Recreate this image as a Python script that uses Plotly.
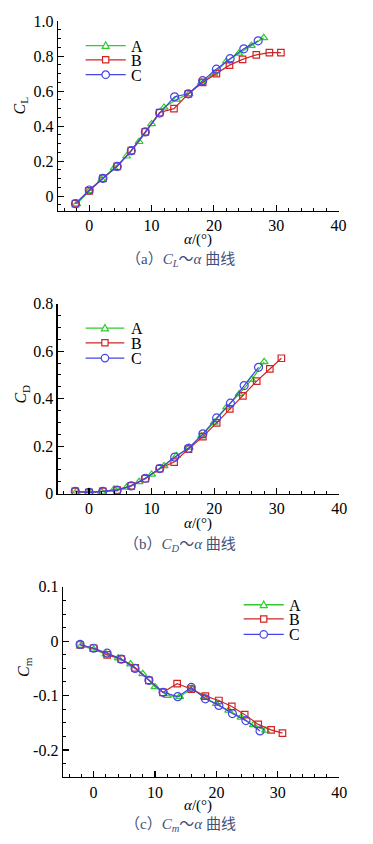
import plotly.graph_objects as go

# ---------------- data ----------------
alpha_A = [-2, 0, 2, 4, 6, 8, 10, 12, 14, 16, 18, 20, 22, 24, 26, 28]
alpha_B = [-2.2, 0, 2.2, 4.5, 6.75, 9.0, 11.3, 13.6, 15.9, 18.2, 20.4, 22.5, 24.6, 26.8, 28.9, 30.75]
alpha_C = [-2.2, 0, 2.2, 4.5, 6.75, 9.0, 11.3, 13.7, 15.9, 18.2, 20.4, 22.6, 24.8, 27.1]

CL_A = [-0.045, 0.03, 0.095, 0.16, 0.228, 0.311, 0.413, 0.507, 0.553, 0.585, 0.65, 0.70, 0.77, 0.816, 0.86, 0.905]
CL_B = [-0.043, 0.03, 0.102, 0.17, 0.26, 0.367, 0.478, 0.50, 0.585, 0.65, 0.70, 0.749, 0.782, 0.808, 0.82, 0.82]
CL_C = [-0.043, 0.035, 0.102, 0.17, 0.26, 0.367, 0.475, 0.568, 0.585, 0.66, 0.726, 0.786, 0.842, 0.888]

CD_A = [0.01, 0.006, 0.008, 0.019, 0.027, 0.05, 0.081, 0.117, 0.16, 0.195, 0.243, 0.30, 0.364, 0.42, 0.48, 0.555]
CD_B = [0.01, 0.006, 0.01, 0.015, 0.033, 0.063, 0.106, 0.133, 0.188, 0.24, 0.298, 0.357, 0.412, 0.474, 0.525, 0.57]
CD_C = [0.01, 0.006, 0.01, 0.015, 0.033, 0.065, 0.106, 0.154, 0.191, 0.252, 0.319, 0.381, 0.455, 0.532]

Cm_A = [-0.008, -0.015, -0.024, -0.031, -0.042, -0.06, -0.084, -0.10, -0.102, -0.087, -0.103, -0.115, -0.127, -0.14, -0.154, -0.164]
Cm_B = [-0.007, -0.013, -0.025, -0.033, -0.049, -0.072, -0.094, -0.078, -0.088, -0.101, -0.109, -0.12, -0.135, -0.153, -0.163, -0.169]
Cm_C = [-0.006, -0.013, -0.022, -0.033, -0.05, -0.072, -0.094, -0.102, -0.085, -0.106, -0.118, -0.133, -0.146, -0.165]

series_names = ["A", "B", "C"]
x_ticks = [0, 10, 20, 30, 40]
x_ticktext = ["0", "10", "20", "30", "40"]
cl_ticks = [0, 0.2, 0.4, 0.6, 0.8, 1.0]
cl_ticktext = ["0", "0.2", "0.4", "0.6", "0.8", "1.0"]
cd_ticks = [0, 0.2, 0.4, 0.6, 0.8]
cd_ticktext = ["0", "0.2", "0.4", "0.6", "0.8"]
cm_ticks = [-0.2, -0.1, 0, 0.1]
cm_ticktext = ["-0.2", "-0.1", "0", "0.1"]

captions = ["（a）<i>C</i><sub><i>L</i></sub>～<i>α</i> 曲线",
            "（b）<i>C</i><sub><i>D</i></sub>～<i>α</i> 曲线",
            "（c）<i>C</i><sub><i>m</i></sub>～<i>α</i> 曲线"]
ytitles = ["<i>C</i><sub>L</sub>", "<i>C</i><sub>D</sub>", "<i>C</i><sub>m</sub>"]
xtitle = "<i>α</i>/(°)"

# ---------------- style ----------------
W, H = 373, 844
SERIF = "Liberation Serif"
colors = ["#2fcc2f", "#d02424", "#4545e6"]
symbols = ["triangle-up-open", "square-open", "circle-open"]
msizes = [7, 6.5, 8]

def px2x(px):
    return px / W

def py2y(py):
    return 1 - py / H

# panel boxes in screen pixels: (left, right, top, bottom)
boxes = [(59.3, 346.0, 13.5, 207.0),
         (59.0, 346.7, 301.7, 495.7),
         (64.3, 346.7, 590.7, 785.0)]
yranges = [[-0.084, 1.0], [0, 0.8], [-0.25, 0.1]]
yminor = [0.05, 0.05, 0.025]
yticks = [(cl_ticks, cl_ticktext), (cd_ticks, cd_ticktext), (cm_ticks, cm_ticktext)]
# legend: (line x0, line x1, text x, [row centres])
legends = [(87.5, 128.5, 131.5, [38.3, 52.9, 68.0]),
           (87.5, 127.0, 131.5, [326.7, 341.7, 357.3]),
           (249.0, 290.0, 293.0, [609.0, 623.5, 639.3])]
ytitle_pos = [(21, 100), (22, 394), (25, 672)]
xtitle_y = [236, 526, 814]
caption_pos = [(184, 257), (184, 548), (184, 834)]

data_sets = [
    (CL_A, CL_B, CL_C),
    (CD_A, CD_B, CD_C),
    (Cm_A, Cm_B, Cm_C),
]
alphas = [alpha_A, alpha_B, alpha_C]

fig = go.Figure()
layout = dict(width=W, height=H, margin=dict(l=0, r=0, t=0, b=0),
              paper_bgcolor="white", plot_bgcolor="white",
              font=dict(family=SERIF, size=15, color="black"),
              showlegend=False)
annotations = []
shapes = []

def legend_marker(kind, cx, cy, color):
    if kind == 0:  # triangle
        r = 3.6
        path = "M {:.5f},{:.5f} L {:.5f},{:.5f} L {:.5f},{:.5f} Z".format(
            px2x(cx - r), py2y(cy + r * 0.8), px2x(cx + r), py2y(cy + r * 0.8),
            px2x(cx), py2y(cy - r * 1.05))
        return dict(type="path", path=path, xref="paper", yref="paper",
                    line=dict(color=color, width=1.2), fillcolor="white")
    if kind == 1:  # square
        r = 3.2
        return dict(type="rect", xref="paper", yref="paper",
                    x0=px2x(cx - r), x1=px2x(cx + r), y0=py2y(cy + r), y1=py2y(cy - r),
                    line=dict(color=color, width=1.2), fillcolor="white")
    r = 3.8
    return dict(type="circle", xref="paper", yref="paper",
                x0=px2x(cx - r), x1=px2x(cx + r), y0=py2y(cy + r), y1=py2y(cy - r),
                line=dict(color=color, width=1.2), fillcolor="white")

for p in range(3):
    sfx = "" if p == 0 else str(p + 1)
    xa, ya = "x" + sfx, "y" + sfx
    for s in range(3):
        fig.add_trace(go.Scatter(
            x=alphas[s], y=data_sets[p][s], name=series_names[s],
            mode="lines+markers", xaxis=xa, yaxis=ya,
            line=dict(color=colors[s], width=1.2),
            marker=dict(symbol=symbols[s], size=msizes[s], color=colors[s],
                        line=dict(width=1.2, color=colors[s])),
        ))
    l, r, t, b = boxes[p]
    axcommon = dict(showline=True, linecolor="black", linewidth=1.3,
                    ticks="inside", ticklen=6, tickwidth=1.2, tickcolor="black",
                    showgrid=False, zeroline=False,
                    tickfont=dict(family=SERIF, size=16, color="black"))
    layout["xaxis" + sfx] = dict(domain=[px2x(l), px2x(r)], range=[-5, 40],
                                 anchor=ya, tickvals=x_ticks, ticktext=x_ticktext,
                                 minor=dict(dtick=2, tick0=0, ticks="inside", ticklen=3,
                                            tickcolor="black", tickwidth=1),
                                 **axcommon)
    tv, tt = yticks[p]
    layout["yaxis" + sfx] = dict(domain=[py2y(b), py2y(t)], range=yranges[p],
                                 anchor=xa, tickvals=tv, ticktext=tt,
                                 minor=dict(dtick=yminor[p], tick0=0, ticks="inside", ticklen=3,
                                            tickcolor="black", tickwidth=1),
                                 **axcommon)
    # manual legend (plotly's native legend rows are too tall)
    lx0, lx1, tx_, rows = legends[p]
    for s in range(3):
        cy = rows[s]
        shapes.append(dict(type="line", xref="paper", yref="paper",
                           x0=px2x(lx0), x1=px2x(lx1), y0=py2y(cy), y1=py2y(cy),
                           line=dict(color=colors[s], width=1.3)))
        shapes.append(legend_marker(s, (lx0 + lx1) / 2, cy, colors[s]))
        annotations.append(dict(text=series_names[s], x=px2x(tx_), y=py2y(cy),
                                xref="paper", yref="paper", xanchor="left", yanchor="middle",
                                height=14, showarrow=False,
                                font=dict(family=SERIF, size=16, color="black")))
    tx, ty = ytitle_pos[p]
    annotations.append(dict(text=ytitles[p], x=px2x(tx), y=py2y(ty), xref="paper", yref="paper",
                            xanchor="center", yanchor="middle",
                            showarrow=False, textangle=-90,
                            font=dict(family=SERIF, size=16, color="black")))
    annotations.append(dict(text=xtitle, x=px2x(202), y=py2y(xtitle_y[p]), xref="paper", yref="paper",
                            xanchor="center", yanchor="middle",
                            showarrow=False, font=dict(family=SERIF, size=15, color="black")))
    cx, cy = caption_pos[p]
    annotations.append(dict(text=captions[p], x=px2x(cx), y=py2y(cy), xref="paper", yref="paper",
                            xanchor="center", yanchor="middle",
                            showarrow=False, font=dict(family=SERIF + ", Noto Sans CJK SC", size=15,
                                                       color="#42507c")))

layout["annotations"] = annotations
layout["shapes"] = shapes
fig.update_layout(**layout)
# remove the browser's default 8px body margin so the figure sits at the page origin
fig.write_html("out.html",
               config={"displayModeBar": False, "staticPlot": True},
               post_script="document.body.style.margin='0px';document.body.style.overflow='hidden';")
